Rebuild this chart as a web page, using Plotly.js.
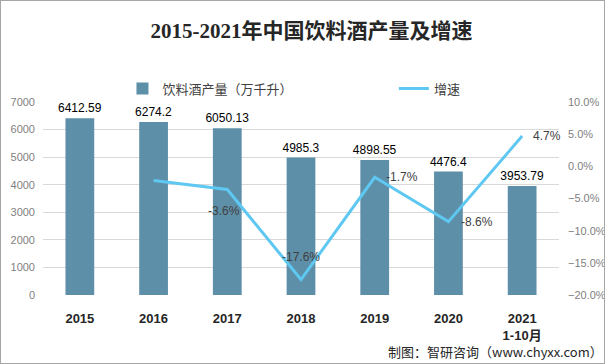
<!DOCTYPE html>
<html>
<head>
<meta charset="utf-8">
<script src="https://cdn.plot.ly/plotly-3.0.1.min.js"></script>
<style>
html,body{margin:0;padding:0;background:#fff;}
#wrap{position:relative;width:605px;height:364px;}
#chart{width:605px;height:364px;}
#frame{position:absolute;left:0;top:0;width:603px;height:362px;border:1px solid #a6a6a6;pointer-events:none;}
</style>
</head>
<body>
<div id="wrap"><div id="chart"></div><div id="frame"></div></div>
<script>
// ---- data ----
const categories = ["2015", "2016", "2017", "2018", "2019", "2020", "2021"];
const tickLabels = ["2015", "2016", "2017", "2018", "2019", "2020", "2021<br>1-10月"];
const production = [6412.59, 6274.2, 6050.13, 4985.3, 4898.55, 4476.4, 3953.79];
const growth = [null, -0.022, -0.036, -0.176, -0.017, -0.086, 0.047];
const seriesNames = ["饮料酒产量（万千升）", "增速"];
const titleText = "2015-2021年中国饮料酒产量及增速";
const footerText = "制图：智研咨询（www.chyxx.com）";

// ---- style: growth label placement (null = not shown) ----
const growthLabelPlacement = [
  null,
  null,
  {xanchor: "center", xshift: -3, yshift: -22},
  {xanchor: "center", xshift: 0, yshift: 23},
  {xanchor: "left", xshift: 9, yshift: 0},
  {xanchor: "left", xshift: 11, yshift: 0},
  {xanchor: "left", xshift: 9, yshift: 0}
];

const barColor = "#5e8fa8";
const lineColor = "#5ec8f2";
const axisFont = {family: "Liberation Sans, Noto Sans CJK SC", size: 11, color: "#7f7f7f"};
const legendFont = {family: "Noto Sans CJK SC", size: 13, color: "#404040"};

const annotations = [];
growth.forEach((g, i) => {
  const p = growthLabelPlacement[i];
  if (g === null || !p) return;
  annotations.push({
    x: i, y: g, xref: "x", yref: "y2",
    text: (g * 100).toFixed(1) + "%",
    showarrow: false, xanchor: p.xanchor, yanchor: "middle",
    xshift: p.xshift, yshift: p.yshift,
    font: {family: "Liberation Sans, Noto Sans CJK SC", size: 12, color: "#404040"}
  });
});
annotations.push({
  xref: "paper", yref: "paper", x: 1.09, y: -0.295,
  xanchor: "right", yanchor: "middle", showarrow: false,
  text: footerText,
  font: {family: "Noto Sans CJK SC", size: 13, color: "#262626"}
});

const traces = [
  {
    type: "bar", name: seriesNames[0], x: categories, y: production,
    marker: {color: barColor},
    text: production.map(v => String(v)), textposition: "outside", constraintext: "none",
    textfont: {family: "Liberation Sans, Noto Sans CJK SC", size: 12, color: "#000"},
    cliponaxis: false, hoverinfo: "none", legend: "legend"
  },
  {
    type: "scatter", mode: "lines", name: seriesNames[1], x: categories, y: growth,
    yaxis: "y2", line: {color: lineColor, width: 3}, hoverinfo: "none", legend: "legend2"
  }
];

const layout = {
  width: 605, height: 364,
  margin: {l: 43, r: 46, t: 102, b: 69},
  paper_bgcolor: "#fff", plot_bgcolor: "#fff",
  title: {
    text: "<b>" + titleText + "</b>",
    x: 0.515, xanchor: "center", y: 0.915, yanchor: "middle",
    font: {family: "Liberation Serif, Noto Sans CJK SC", size: 21, color: "#262626"}
  },
  bargap: 0.61,
  showlegend: true,
  legend: {
    orientation: "h", x: 0.154, xanchor: "left", y: 1.07, yanchor: "middle",
    font: legendFont, bgcolor: "rgba(0,0,0,0)"
  },
  legend2: {
    orientation: "h", x: 0.68, xanchor: "left", y: 1.07, yanchor: "middle",
    font: legendFont, bgcolor: "rgba(0,0,0,0)"
  },
  xaxis: {
    type: "category", categoryorder: "array", categoryarray: categories,
    range: [-0.5, categories.length - 0.5],
    tickmode: "array", tickvals: categories, ticktext: tickLabels.map(t => "<b>" + t + "</b>"),
    showgrid: false, zeroline: false, showline: false, ticks: "", ticklabelstandoff: 14,
    tickfont: {family: "Liberation Sans, Noto Sans CJK SC", size: 13, color: "#262626"}
  },
  yaxis: {
    range: [0, 7000], dtick: 1000, showgrid: true, gridcolor: "#d9d9d9", gridwidth: 1,
    zeroline: false, showline: false, ticks: "", tickfont: axisFont, ticklabelstandoff: 7
  },
  yaxis2: {
    overlaying: "y", side: "right", range: [-0.2, 0.1], dtick: 0.05, tickformat: ".1%",
    showgrid: false, zeroline: false, showline: false, ticks: "", tickfont: axisFont,
    ticklabelstandoff: 8
  },
  annotations: annotations
};

Plotly.newPlot("chart", traces, layout, {staticPlot: true, displayModeBar: false});
</script>
</body>
</html>
